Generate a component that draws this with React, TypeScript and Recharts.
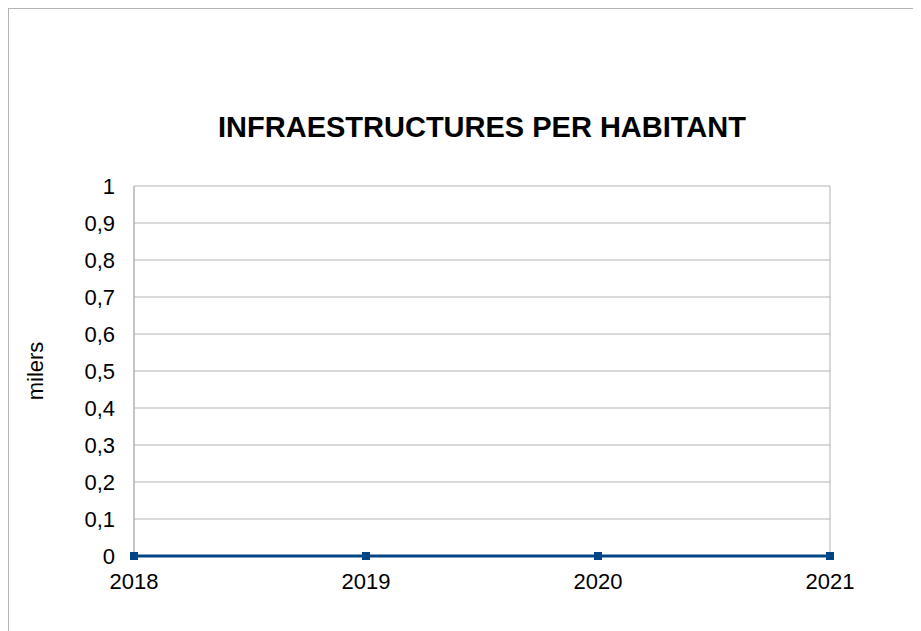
import { LineChart, Line, XAxis, YAxis, CartesianGrid } from "recharts"

const years = ["2018", "2019", "2020", "2021"]
const values = [0, 0, 0, 0]
const yTicks = [0, 0.1, 0.2, 0.3, 0.4, 0.5, 0.6, 0.7, 0.8, 0.9, 1]

const FONT = "'Liberation Sans', Arial, sans-serif"
const BLUE = "#004586"
const GRID = "#b3b3b3"

const data = years.map((year, i) => ({ year, value: values[i] }))

// square marker like the spreadsheet export
const SquareDot = (props: any) => {
  const { cx, cy, index } = props
  if (cx == null || cy == null) return null
  return <rect key={`dot-${index}`} x={cx - 4} y={cy - 4} width={8} height={8} fill={BLUE} />
}

const AxisTitle = (props: any) => {
  const { viewBox } = props
  const x = viewBox.x + 26
  const y = viewBox.y + viewBox.height / 2
  return (
    <text
      x={x}
      y={y}
      transform={`rotate(-90, ${x}, ${y})`}
      textAnchor="middle"
      dominantBaseline="central"
      fontSize={22}
      fontFamily={FONT}
      fill="#000"
    >
      milers
    </text>
  )
}

export default function App() {
  return (
    <div
      style={{
        position: "relative",
        width: 912,
        height: 622,
        borderLeft: `1px solid ${GRID}`,
        borderTop: `1px solid ${GRID}`,
        fontFamily: FONT,
      }}
    >
      <div
        style={{
          position: "absolute",
          left: 125,
          width: 696,
          top: 102,
          lineHeight: "32px",
          fontSize: 29,
          fontWeight: "bold",
          textAlign: "center",
          color: "#000",
        }}
      >
        INFRAESTRUCTURES PER HABITANT
      </div>
      <LineChart width={912} height={622} data={data} margin={{ top: 177, right: 91, left: 0, bottom: 35 }}>
        <CartesianGrid
          stroke={GRID}
          horizontal={true}
          vertical={true}
          verticalCoordinatesGenerator={({ offset }: any) => [offset.left, offset.left + offset.width]}
        />
        <XAxis
          dataKey="year"
          height={40}
          tickLine={false}
          axisLine={false}
          tickSize={0}
          tickMargin={17}
          interval={0}
          tick={{ fontSize: 22, fill: "#000", fontFamily: FONT }}
        />
        <YAxis
          width={125}
          domain={[0, 1]}
          ticks={yTicks}
          interval={0}
          tickLine={false}
          tickSize={0}
          tickMargin={19}
          axisLine={{ stroke: GRID }}
          tick={{ fontSize: 22, fill: "#000", fontFamily: FONT }}
          tickFormatter={(v: number) => String(v).replace(".", ",")}
          label={<AxisTitle />}
        />
        <Line
          type="linear"
          dataKey="value"
          stroke={BLUE}
          strokeWidth={3}
          dot={SquareDot}
          activeDot={false}
          isAnimationActive={false}
        />
      </LineChart>
    </div>
  )
}
